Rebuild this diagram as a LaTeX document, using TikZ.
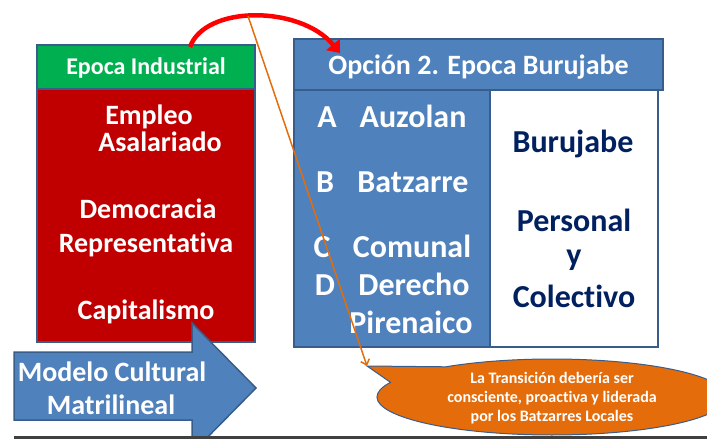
\documentclass[tikz,border=0pt]{standalone}
\usepackage{fontspec}
\setmainfont{Carlito}[RawFeature={-liga}]
\usetikzlibrary{positioning,arrows.meta,shapes.callouts}
\definecolor{verde}{HTML}{00B050}
\definecolor{rojo}{HTML}{C00000}
\definecolor{azul}{HTML}{4F81BD}
\definecolor{borde}{HTML}{385D8A}
\definecolor{marino}{HTML}{002060}
\definecolor{naranja}{HTML}{E46C0A}
\definecolor{gris}{HTML}{404040}
\tikzset{
  caja/.style={draw=borde, line width=1.5pt, inner sep=0pt},
  blanco/.style={text=white, inner sep=0pt, text height=18pt, text depth=0pt,
    font=\bfseries\fontsize{28}{33}\selectfont},
  grande/.style={blanco, text height=20.6pt, font=\bfseries\fontsize{32}{38}\selectfont},
  oscuro/.style={grande, text=marino},
  flecha/.style={fill=azul, draw=borde, line width=1.5pt},
  nota/.style={text=white, align=center, inner sep=0pt,
    font=\bfseries\fontsize{16}{19}\selectfont},
  curva/.style={draw=red, line width=4.5pt, -{Triangle[length=11pt,width=17pt]}},
  guia/.style={draw=naranja, line width=1.5pt, -{Straight Barb[length=5pt,width=9pt]}}
}

\begin{document}
\begin{tikzpicture}[x=1pt,y=-1pt]
  \useasboundingbox (0,0) rectangle (707,439);
  % epoca industrial
  \node[caja, fill=rojo, minimum width=218pt, minimum height=253pt] (rojobox) at (146,215.5) {};
  \node[caja, fill=verde, minimum width=218pt, minimum height=44pt, text=white,
    text height=15.5pt, text depth=0pt, font=\bfseries\fontsize{24}{29}\selectfont] (ind) at (146,67) {Epoca Industrial};
  \node[blanco] (empleo) at (149,115) {Empleo};
  \node[blanco] (asal) at (160,142) {Asalariado};
  \node[blanco] (demo) at (148,209) {Democracia};
  \node[blanco] (repr) at (146,243) {Representativa};
  \node[blanco] (capi) at (146,310) {Capitalismo};
  % flecha modelo cultural
  \draw[flecha] (14,352) -- (192,352) -- (192,323) -- (256,388) -- (192,453) -- (192,420) -- (14,420) -- cycle;
  \node[blanco] (modelo) at (112,372) {Modelo Cultural};
  \node[blanco] (matri) at (111,405) {Matrilineal};
  % opcion 2
  \node[caja, fill=azul, minimum width=196pt, minimum height=257pt] (izq) at (392,218.5) {};
  \node[caja, fill=white, minimum width=168pt, minimum height=257pt] (der) at (574,218.5) {};
  \node[caja, fill=azul, minimum width=369pt, minimum height=51pt] (opc) at (478.5,64.5) {};
  \node[blanco] (opct) at (478.5,65) {Opción 2. Epoca Burujabe};
  \node[grande] (la) at (327,117) {A};
  \node[grande] (auzo) at (413,117) {Auzolan};
  \node[grande] (lb) at (325,182) {B};
  \node[grande] (batz) at (413,182) {Batzarre};
  \node[grande] (lc) at (322,247) {C};
  \node[grande] (comu) at (412,247) {Comunal};
  \node[grande] (ld) at (325,285) {D};
  \node[grande] (dere) at (414,285) {Derecho};
  \node[grande] (pire) at (411,323) {Pirenaico};
  \node[oscuro] (buru) at (573,142) {Burujabe};
  \node[oscuro] (pers) at (574,221) {Personal};
  \node[oscuro] (ye) at (574,255) {y};
  \node[oscuro] (cole) at (574,297) {Colectivo};
  % llamada
  \coordinate (punta) at (367,366);
  \node[ellipse callout, fill=naranja, draw=borde, line width=1pt, minimum width=350pt, minimum height=76pt,
    callout absolute pointer={(punta)}, callout pointer arc=30] (llamada) at (552,397) {};
  \node[nota] (trans) at (552,398) {La Transición debería ser\\consciente, proactiva y liderada\\por los Batzarres Locales};
  \draw[line width=3pt, gris] (14,437) -- (707,437);
  % flechas
  \coordinate (salida) at (190,47);
  \coordinate (llegada) at (340,53);
  \draw[curva] (salida) .. controls (205,5) and (300,5) .. (llegada);
  \coordinate (origen) at (248,16);
  \draw[guia] (origen) -- (punta);
\end{tikzpicture}
\end{document}
